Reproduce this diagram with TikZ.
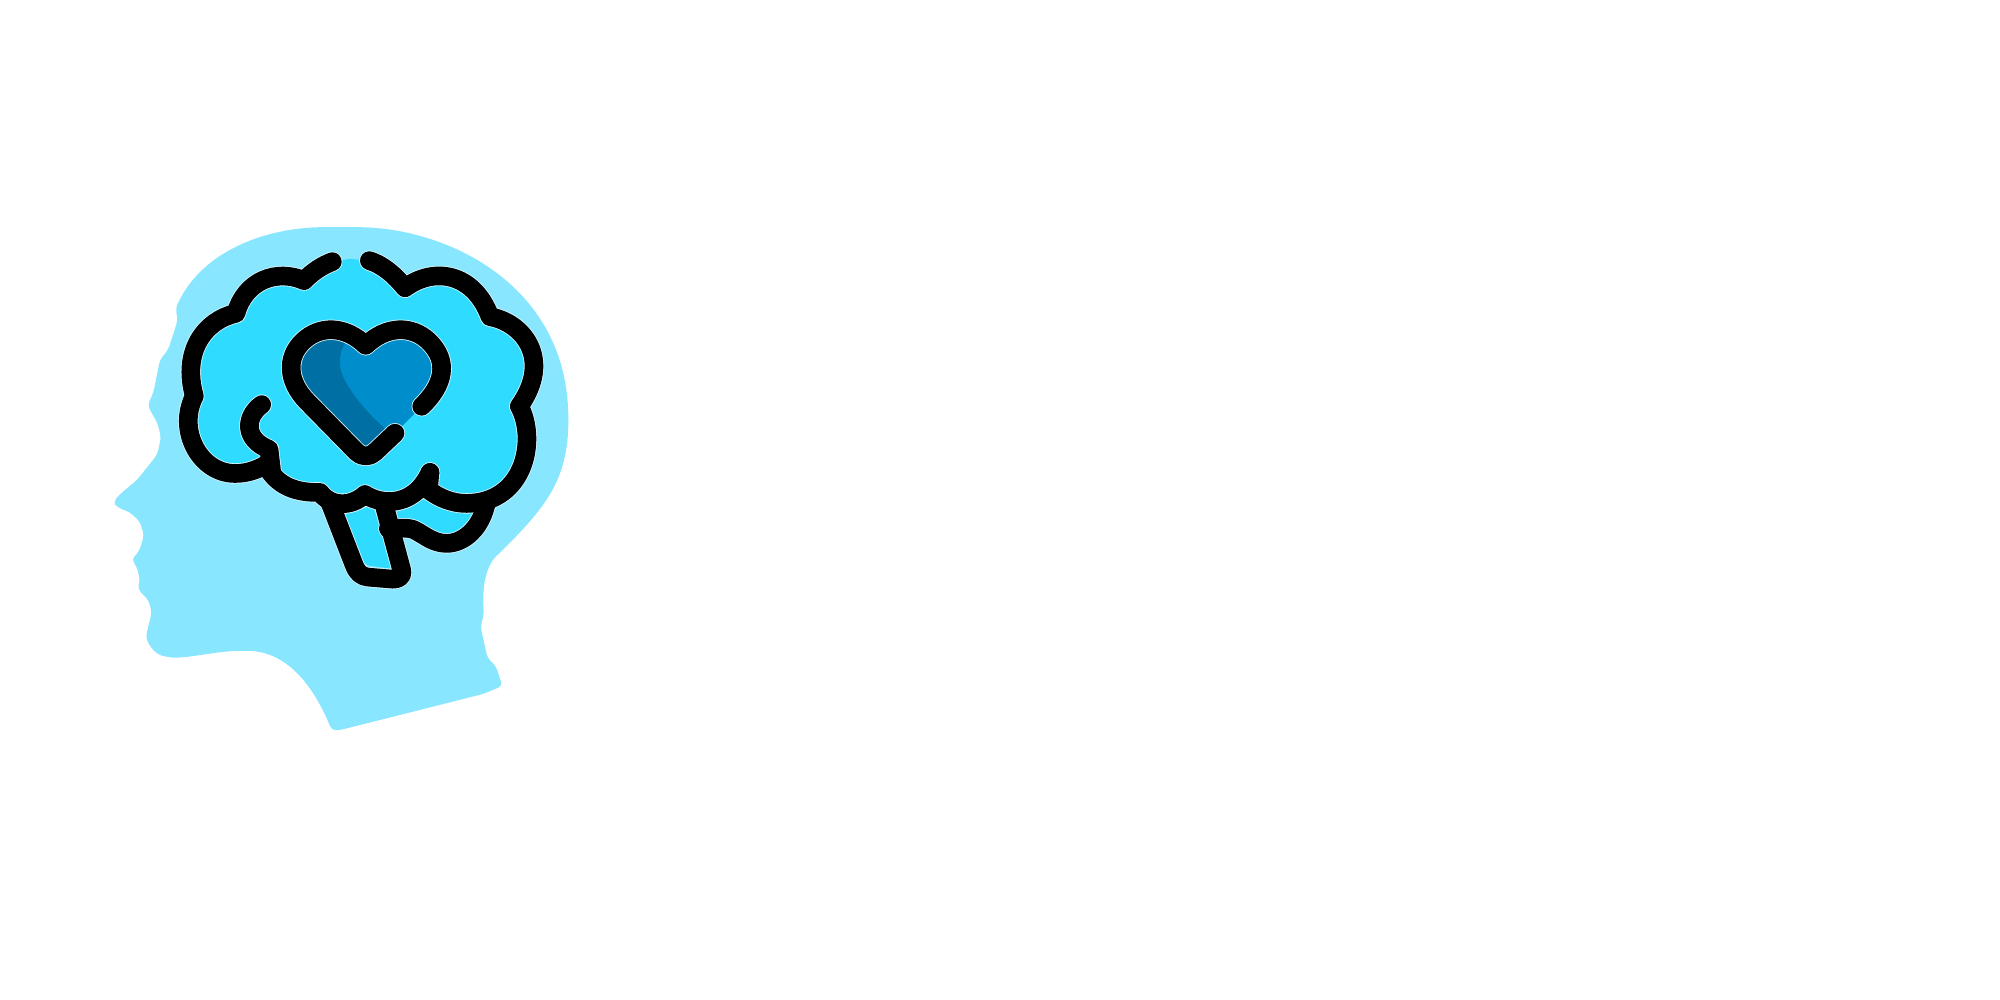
\documentclass[tikz,border=0pt]{standalone}
\definecolor{headblue}{HTML}{88E6FF}
\definecolor{brainblue}{HTML}{2FDBFF}
\definecolor{heartblue}{HTML}{008DCB}
\definecolor{heartdark}{HTML}{006FA3}
\definecolor{halo}{HTML}{D5F7FF}
\newcommand{\lobeleft}{.. controls (665,162) and (640,178) .. (612,205)
	.. controls (530,170) and (435,205) .. (408,300)
	.. controls (315,320) and (245,410) .. (283,540)
	.. controls (230,640) and (300,765) .. (405,765)
	.. controls (440,765) and (470,755) .. (497,740)}
\newcommand{\lowerline}{.. controls (525,790) and (570,822) .. (660,820)
	.. controls (690,860) and (750,865) .. (795,826)
	.. controls (830,850) and (935,875) .. (990,762)}
\newcommand{\lobetop}{.. controls (850,160) and (885,190) .. (915,226)
	.. controls (1000,165) and (1120,180) .. (1170,310)
	.. controls (1265,325) and (1360,430) .. (1258,570)
	.. controls (1310,660) and (1280,850) .. (1100,852)
	.. controls (1055,852) and (1015,835) .. (985,812)}
\newcommand{\heartline}{.. controls (1030,510) and (1050,440) .. (985,380)
	.. controls (935,335) and (860,335) .. (797,393)
	.. controls (735,335) and (660,335) .. (610,380)
	.. controls (555,430) and (565,500) .. (620,555)
	-- (770,703) .. controls (785,718) and (810,718) .. (825,703) -- (885,648)}
\begin{document}
\begin{tikzpicture}[x=0.1pt,y=-0.10333pt]
	\tikzset{ blackline/.style = {draw=black, line width=5.6pt, line cap=round, line join=round},
		haloline/.style = {draw=halo, line width=6.1pt, line cap=round, line join=round} }
	\useasboundingbox (-300,-609.7) rectangle (5700,2293.5);
	% head
	\fill[headblue, rounded corners=1.2pt] (227,285) .. controls (300,130) and (470,60) .. (650,50) -- (790,50)
		.. controls (1060,62) and (1395,225) .. (1405,600)
		.. controls (1405,780) and (1340,860) .. (1200,995) .. controls (1160,1030) and (1145,1090) .. (1152,1170)
		-- (1142,1210) -- (1162,1300) -- (1188,1325) -- (1207,1382) -- (1150,1405) -- (720,1510) -- (695,1510)
		.. controls (640,1380) and (560,1280) .. (430,1280) .. controls (350,1280) and (250,1305) .. (200,1297)
		.. controls (165,1290) and (135,1255) .. (142,1220) -- (155,1170) -- (147,1135) -- (113,1100) -- (120,1075)
		-- (110,1035) -- (95,1015) -- (118,990) -- (132,945) -- (120,905) -- (90,878) -- (50,862) -- (40,848)
		-- (60,825) -- (110,785) -- (172,710) -- (183,660) -- (173,620) -- (143,568) -- (160,530) -- (180,435)
		-- (205,405) -- (233,320) -- cycle;
	% brain
	\fill[brainblue] (750,142) -- (697,150) \lobeleft \lowerline -- (985,812)
		.. controls (1015,835) and (1055,852) .. (1100,852) .. controls (1280,850) and (1310,660) .. (1258,570)
		.. controls (1360,430) and (1265,325) .. (1170,310) .. controls (1120,180) and (1000,165) .. (915,226)
		.. controls (885,190) and (850,160) .. (808,147) -- cycle;
	\fill[brainblue] plot[smooth cycle,tension=.4] coordinates {(885,878) (930,865) (970,840) (1040,870) (1090,880) (1128,880) (1095,925) (1040,942) (985,925) (950,902) (905,898) (888,890)};
	\fill[brainblue] (730,885) -- (770,876) .. controls (790,868) and (815,850) .. (825,875) -- (878,1042) -- (805,1032) .. controls (795,1030) and (790,1022) .. (786,1012) -- cycle;
	% heart
	\fill[heartblue] (965,570) \heartline -- cycle;
	\fill[heartdark] (735,385) .. controls (710,430) and (715,470) .. (750,520) .. controls (780,565) and (815,600) .. (855,635) -- (797,700) -- (610,540) -- (590,420) -- (640,370) -- (700,365) -- cycle;
	% strokes, every one twice
	\foreach \linestyle in {haloline,blackline} {
		\draw[\linestyle] (697,150) \lobeleft;
		\draw[\linestyle] (808,147) \lobetop;
		\draw[\linestyle] (497,740) \lowerline;
		\draw[\linestyle] (485,565) .. controls (435,600) and (430,665) .. (507,695) -- (515,760);
		\draw[\linestyle] (990,762) -- (985,812);
		\draw[\linestyle] (965,570) \heartline;
		\draw[\linestyle] (690,850) -- (762,1030) .. controls (772,1055) and (785,1064) .. (805,1066) -- (880,1072) .. controls (900,1072) and (910,1060) .. (905,1045) -- (852,855);
		\draw[\linestyle] (1160,845) .. controls (1145,925) and (1090,968) .. (1040,968) .. controls (1000,968) and (975,945) .. (945,930) .. controls (925,920) and (895,925) .. (865,925);
	}
\end{tikzpicture}
\end{document}
